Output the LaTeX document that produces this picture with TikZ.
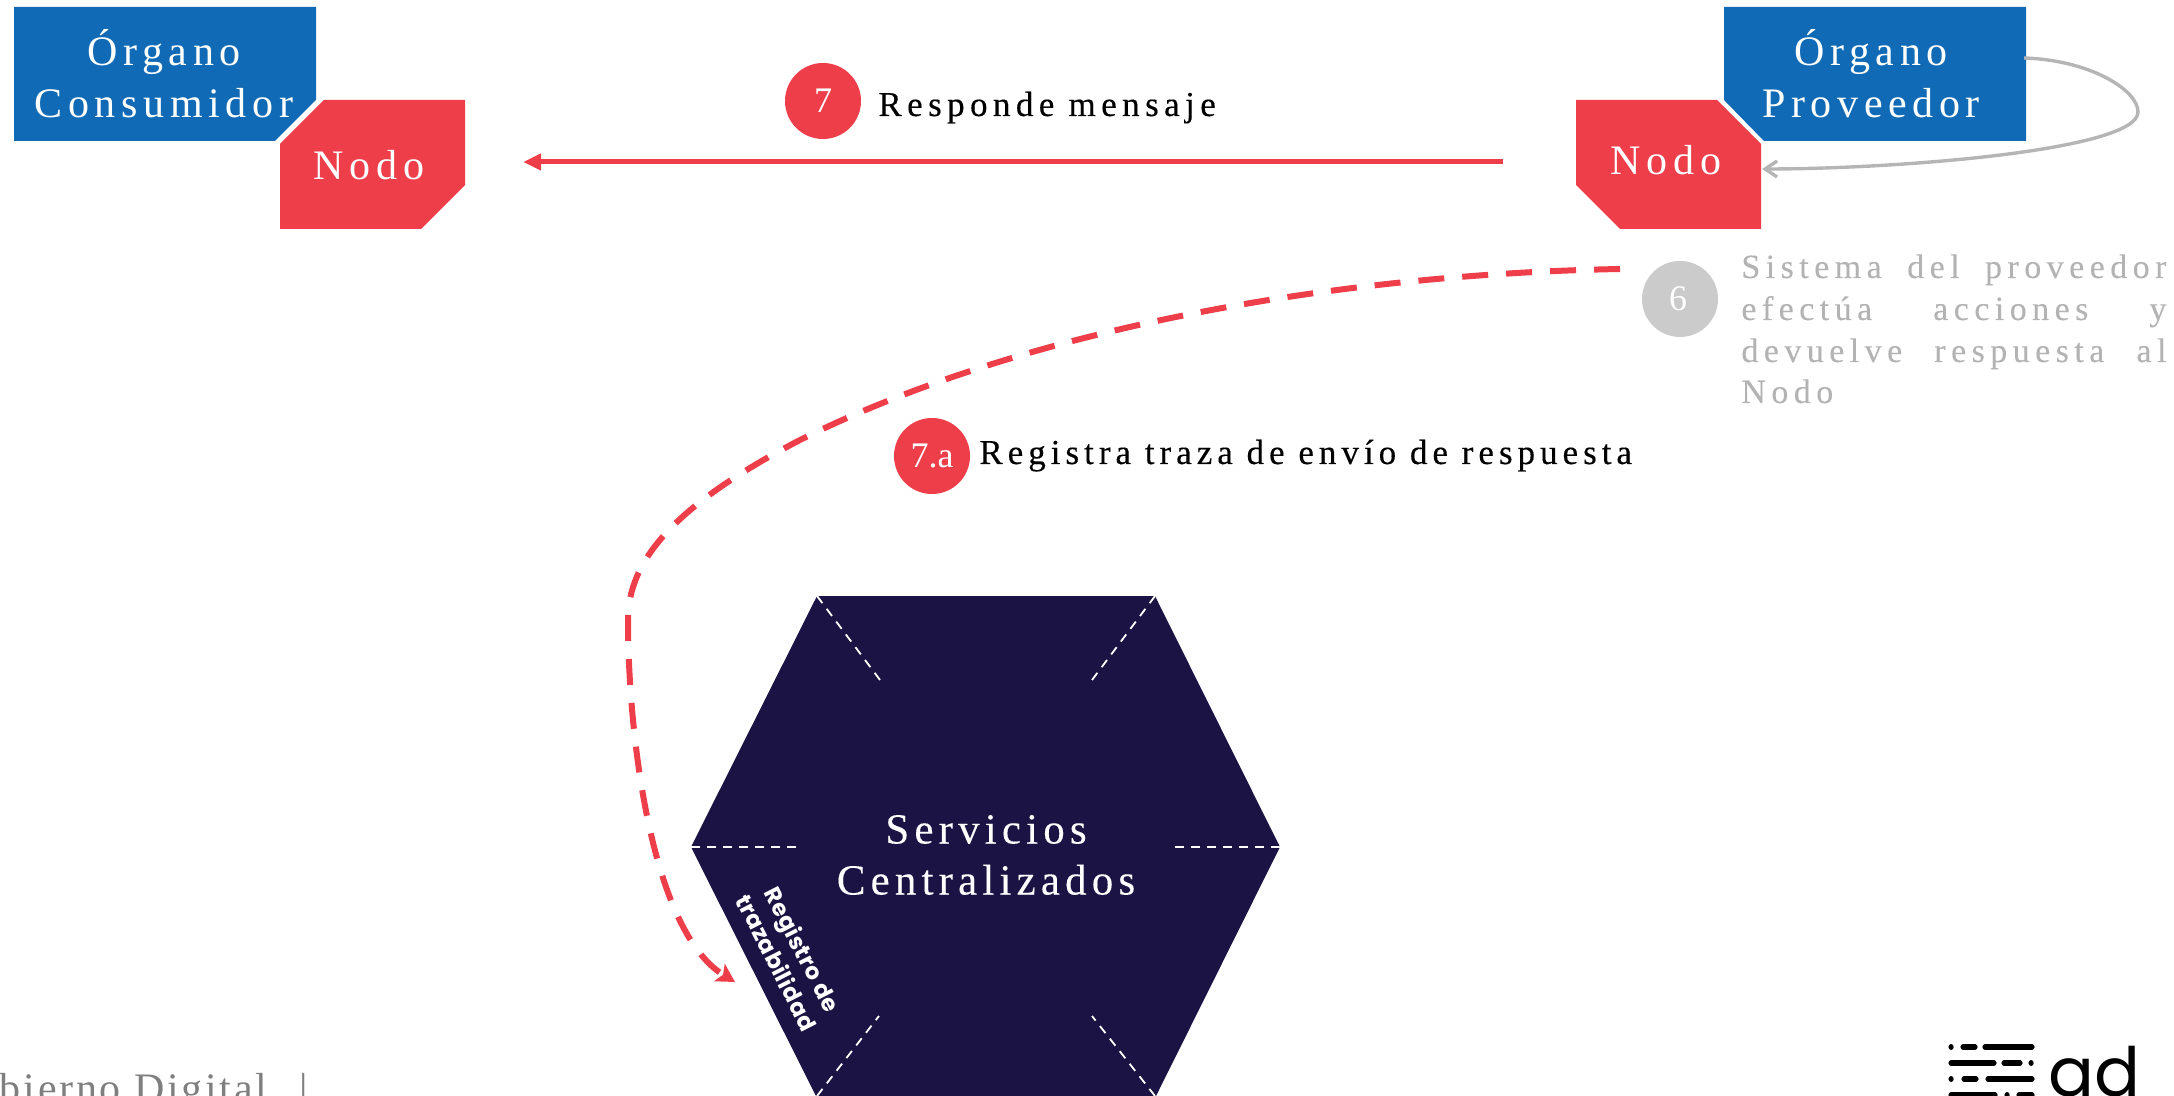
\documentclass[tikz,border=0pt]{standalone}
\usepackage{fontspec}
\setmainfont{Liberation Serif}
\newfontfamily\spacedA[LetterSpace=13.5]{Liberation Serif}
\newfontfamily\spacedB[LetterSpace=15.5,FakeBold=0.3]{Liberation Serif}
\newfontfamily\spacedC[LetterSpace=12,FakeBold=0.15]{Liberation Serif}
\newfontfamily\spacedD[LetterSpace=14.3,FakeBold=0.3]{Liberation Serif}
\newfontfamily\spacedE[LetterSpace=16,FakeBold=0.15]{Liberation Serif}
\newfontfamily\spacedF[LetterSpace=6.5]{Liberation Serif}
\newfontfamily\logofont{Poppins}
\newfontfamily\hexfont[LetterSpace=2]{Poppins}
\usetikzlibrary{arrows.meta}
\definecolor{blueorg}{HTML}{106AB5}
\definecolor{rednode}{HTML}{EE3E4A}
\definecolor{navyhex}{HTML}{1B1343}
\definecolor{greycirc}{HTML}{CBCBCB}
\definecolor{greytext}{HTML}{B3B3B3}
\definecolor{greyline}{HTML}{B5B5B5}
\definecolor{footgrey}{HTML}{7F7F7F}
\tikzset{
  boxlabel/.style={text=white,font=\spacedA\fontsize{21}{26}\selectfont,align=center,inner sep=0pt},
  hexlabel/.style={text=white,font=\spacedC\fontsize{21.5}{25.5}\selectfont,align=center,inner sep=0pt},
  steplabel/.style={text=black,font=\spacedB\fontsize{17.5}{20}\selectfont,anchor=base west,inner sep=0pt},
  greylabel/.style={text=greytext,font=\spacedE\fontsize{17}{20}\selectfont,anchor=base west,inner sep=0pt},
  stepdot/.style={circle,minimum size=38pt,inner sep=0pt,fill=rednode,text=white,font=\fontsize{18}{20}\selectfont},
  whitedash/.style={draw=white,line width=0.9pt,dash pattern=on 4.5pt off 3.5pt},
  logobar/.style={draw=black,line width=2.6pt,line cap=round}
}
\begin{document}
\begin{tikzpicture}[x=0.5pt,y=-0.5pt]
\useasboundingbox (0,0) rectangle (2174,1096);
\clip (0,0) rectangle (2174,1096);
% organ boxes and nodes
\fill[blueorg] (14,7) -- (316,7) -- (316,100) -- (275,141) -- (14,141) -- cycle;
\fill[rednode] (324,100) -- (465,100) -- (465,185) -- (421,229) -- (280,229) -- (280,144) -- cycle;
\fill[blueorg] (1724,7) -- (2026,7) -- (2026,141) -- (1764,141) -- (1724,100) -- cycle;
\fill[rednode] (1576,100) -- (1717,100) -- (1761,144) -- (1761,229) -- (1620,229) -- (1576,185) -- cycle;
\node[boxlabel] (orgc) at (164,74) {Órgano\\Consumidor};
\node[boxlabel,anchor=base] (nodoc) at (369,180) {Nodo};
\node[boxlabel] (orgp) at (1871,74) {Órgano\\Proveedor};
\node[boxlabel,anchor=base] (nodop) at (1666,175) {Nodo};
% step 7
\node[stepdot] (s7) at (823,101) {7};
\node[steplabel] (t7) at (878,116) {Responde mensaje};
\coordinate (a7s) at (1503,162);
\coordinate (a7e) at (523,162);
\draw[rednode,line width=2.5pt,-{Stealth[length=9pt,width=8pt,inset=0pt]}] (a7s) -- (a7e);
% grey loop
\coordinate (loops) at (2024,58);
\coordinate (loopm) at (2138,112);
\coordinate (loope) at (1762,169);
\draw[greyline,line width=1.7pt,-{Straight Barb[length=6pt,width=8pt]}] (loops) .. controls (2090,60) and (2138,90) .. (loopm) .. controls (2138,150) and (1900,169) .. (loope);
% step 6
\node[stepdot,fill=greycirc] (s6) at (1680,299) {\hspace{-2pt}\raisebox{-3pt}{6}};
\node[greylabel,text width=212.5pt] (t6a) at (1741,278) {\hbox to 212.5pt{Sistema\hfill del\hfill proveedor}};
\node[greylabel,text width=212.5pt] (t6b) at (1741,320) {\hbox to 212.5pt{efectúa\hfill acciones\hfill y}};
\node[greylabel,text width=212.5pt] (t6c) at (1741,362) {\hbox to 212.5pt{devuelve\hfill respuesta\hfill al}};
\node[greylabel] (t6d) at (1741,403) {Nodo};
% step 7a
\node[stepdot] (s7a) at (932,456) {7.a};
\node[steplabel,font=\spacedD\fontsize{17.5}{20}\selectfont] (t7a) at (979,464) {Registra traza de envío de respuesta};
% hexagon
\fill[navyhex] (817,596) -- (1155,596) -- (1280,847) -- (1155,1098) -- (817,1098) -- (691,847) -- cycle;
\draw[whitedash] (691,847) -- (796,847);
\draw[whitedash] (1280,847) -- (1175,847);
\draw[whitedash] (817,596) -- (880,680);
\draw[whitedash] (1155,596) -- (1092,680);
\draw[whitedash] (817,1096) -- (879,1016);
\draw[whitedash] (1155,1096) -- (1092,1016);
\node[hexlabel] (hex) at (986,855) {Servicios\\Centralizados};
\node[text=white,font=\hexfont\bfseries\fontsize{11.5}{14.5}\selectfont,align=center,rotate=-63,inner sep=0pt] (reg) at (790,956) {Registro de\\trazabilidad};
% dashed trace
\coordinate (ds) at (1620,269);
\coordinate (de) at (735,982);
\draw[rednode,line width=3pt,dash pattern=on 13pt off 9pt,-{Stealth[length=9pt,width=10pt,inset=2pt]}] (ds) .. controls (1300,275) and (1000,340) .. (800,440) .. controls (675,505) and (628,560) .. (628,620) .. controls (628,730) and (650,930) .. (de);
% footer
\node[text=footgrey,font=\spacedF\fontsize{21}{24}\selectfont,anchor=base east,inner sep=0pt] (foot) at (308,1102) {Gobierno Digital\hspace{16pt}|};
% logo
\draw[logobar] (1951,1047) -- (1951.1,1047) (1963,1047) -- (1975,1047) (1985,1047) -- (2032,1047);
\draw[logobar] (1951,1063) -- (1994,1063) (2004,1063) -- (2020,1063) (2031,1063) -- (2031.1,1063);
\draw[logobar] (1951,1079) -- (1951.1,1079) (1964,1079) -- (1976,1079) (1988,1079) -- (2032,1079);
\draw[logobar] (1951,1095) -- (1995,1095) (2007,1095) -- (2007.1,1095) (2019,1095) -- (2032,1095);
\node[text=black,font=\logofont\fontsize{34}{40}\selectfont,anchor=base west,inner sep=0pt] (logo) at (2048,1096) {gd};
\end{tikzpicture}
\end{document}
